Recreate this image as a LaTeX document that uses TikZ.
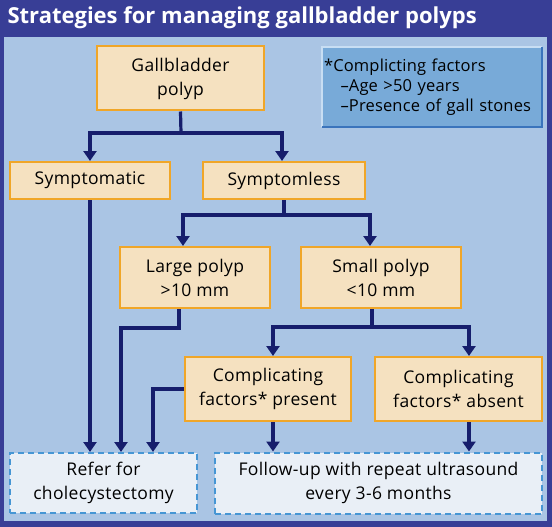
\documentclass[tikz,border=0pt]{standalone}
\usepackage{fontspec}
\setmainfont{Open Sans}
\usepackage{tikz}
\usetikzlibrary{arrows.meta}
\definecolor{frame}{RGB}{56,62,150}
\definecolor{panel}{RGB}{170,197,228}
\definecolor{boxfill}{RGB}{245,225,192}
\definecolor{boxline}{RGB}{240,166,40}
\definecolor{dashline}{RGB}{70,150,212}
\definecolor{dashfill}{RGB}{233,239,246}
\definecolor{notefill}{RGB}{120,170,216}
\definecolor{notelite}{RGB}{200,222,243}
\definecolor{notedark}{RGB}{58,116,188}
\definecolor{arrow}{RGB}{22,30,108}

\begin{document}
\begin{tikzpicture}[x=1pt,y=-1pt,
  b/.style={draw=boxline,fill=boxfill,line width=2pt,align=center,inner sep=0,
    font=\fontsize{17.5}{24}\addfontfeature{LetterSpace=2}\selectfont},
  d/.style={b,draw=dashline,fill=dashfill,dash pattern=on 6pt off 4pt},
  l/.style={draw=arrow,line width=3.2pt},
  a/.style={l,-{Triangle[width=13pt,length=10pt]}}]
\useasboundingbox (0,0) rectangle (552,527);
\fill[frame] (0,0) rectangle (552,527);
\fill[panel] (4,37) rectangle (547,521);
\node[anchor=west,text=white,font=\fontsize{22}{24}\bfseries\selectfont] (tit) at (4,18)
  {Strategies for managing gallbladder polyps};
\node[b,minimum width=167pt,minimum height=64pt] (gb) at (180.5,78.5) {Gallbladder\\polyp};
\node[b,minimum width=160pt,minimum height=37pt] (sym) at (90,180.5) {Symptomatic};
\node[b,minimum width=162pt,minimum height=37pt] (sless) at (284,180.5) {Symptomless};
\node[b,minimum width=150pt,minimum height=61pt] (large) at (195,277.5) {Large polyp\\>10 mm};
\node[b,minimum width=160pt,minimum height=61pt] (small) at (381,277.5) {Small polyp\\<10 mm};
\node[b,minimum width=166pt,minimum height=64pt] (pres) at (268,389) {Complicating\\factors* present};
\node[b,minimum width=167pt,minimum height=64pt] (abs) at (458.5,389) {Complicating\\factors* absent};
\node[d,minimum width=187pt,minimum height=60pt] (refer) at (103.5,483) {Refer for\\cholecystectomy};
\node[d,minimum width=327pt,minimum height=61pt] (fu) at (378.5,483)
  {Follow-up with repeat ultrasound\\every 3-6 months};
\node[fill=notefill,minimum width=220pt,minimum height=80pt,text width=216pt,inner xsep=2pt,
  align=left,font=\fontsize{16.5}{20}\addfontfeature{LetterSpace=1}\selectfont] (note) at (432,87)
  {*Complicting factors\\\hspace*{1em}--Age >50 years\\\hspace*{1em}--Presence of gall stones};
\draw[notelite,line width=2.5pt] (note.south west) -- (note.north west) -- (note.north east);
\draw[notedark,line width=2.5pt] (note.north east) -- (note.south east) -- (note.south west);
\coordinate (j1) at (181,133);
\draw[l] (gb.south) -- (j1);
\draw[a] (j1) -| (sym.north);
\draw[a] (j1) -| ([xshift=-2pt]sless.north);
\draw[a] (sym.south) -- (sym.south |- refer.north);
\coordinate (j2) at (284,215);
\draw[l] (sless.south) -- (j2);
\draw[a] (j2) -| ([xshift=-12pt]large.north);
\draw[a] (j2) -| ([xshift=-11pt]small.north);
\draw[a] ([xshift=-16pt]large.south) -- ++(0,19) -| ([xshift=17.5pt]refer.north);
\draw[a] (pres.west) -| ([xshift=49.5pt]refer.north);
\coordinate (j3) at (372,327);
\draw[l] ([xshift=-9pt]small.south) -- (j3);
\draw[a] (j3) -| ([xshift=5pt]pres.north);
\draw[a] (j3) -| ([xshift=10.5pt]abs.north);
\draw[a] ([xshift=5pt]pres.south) -- ([xshift=5pt]pres.south |- fu.north);
\draw[a] ([xshift=10.5pt]abs.south) -- ([xshift=10.5pt]abs.south |- fu.north);
\end{tikzpicture}
\end{document}
